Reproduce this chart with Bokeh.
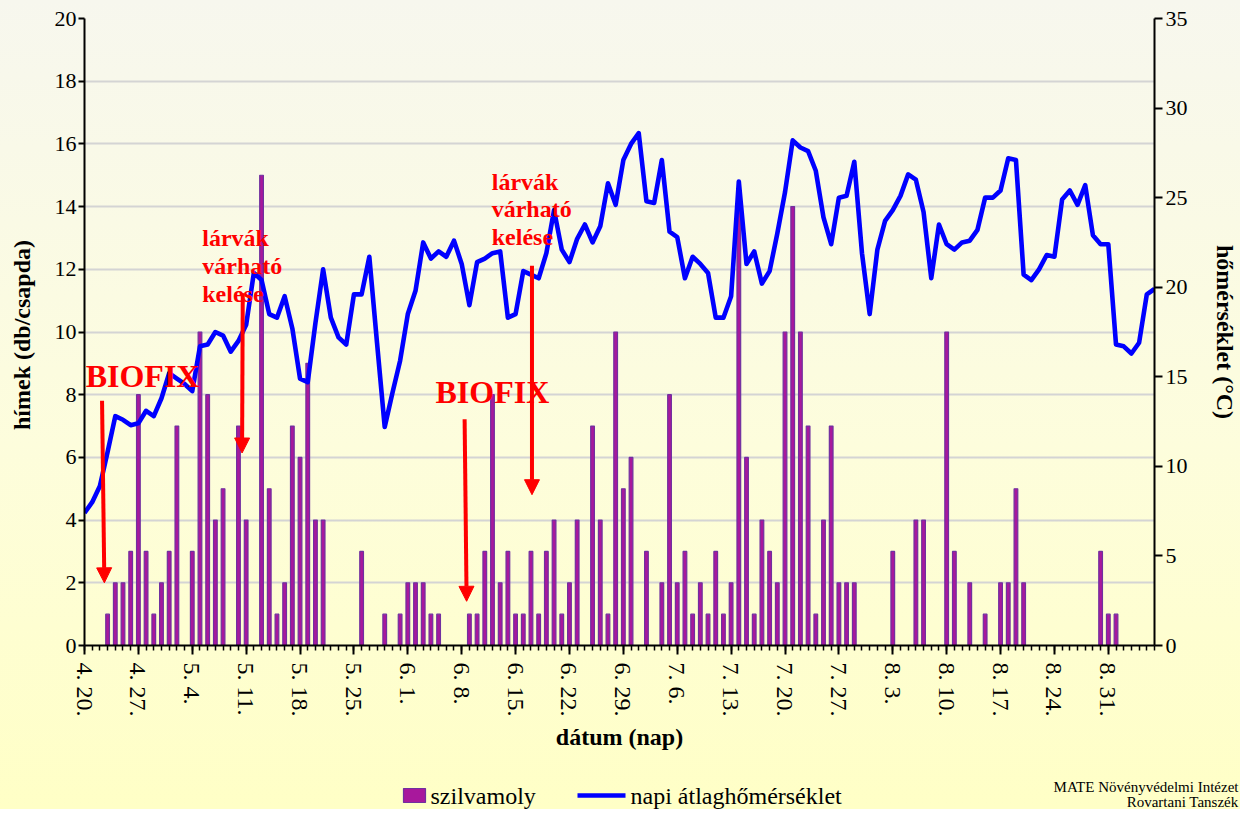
from bokeh.plotting import figure
from bokeh.layouts import column
from bokeh.models import (Range1d, LinearAxis, FixedTicker, Label, Arrow, NormalHead)
from bokeh.core.properties import value
from bokeh.embed import file_html
from bokeh.resources import INLINE

# ---------------- data ----------------
# x tick labels (one every 7 days, starting 4.20.)
tick_labels = ["4. 20.", "4. 27.", "5. 4.", "5. 11.", "5. 18.", "5. 25.", "6. 1.",
               "6. 8.", "6. 15.", "6. 22.", "6. 29.", "7. 6.", "7. 13.", "7. 20.",
               "7. 27.", "8. 3.", "8. 10.", "8. 17.", "8. 24.", "8. 31."]

# day index (0 = 4.20.) of each trap check with catch, and caught males
moth_days = [3, 4, 5, 6, 7, 8, 9, 10, 11, 12, 14, 15, 16, 17, 18, 20, 21, 23, 24, 25,
             26, 27, 28, 29, 30, 31, 36, 39, 41, 42, 43, 44, 45, 46, 50, 51, 52, 53,
             54, 55, 56, 57, 58, 59, 60, 61, 62, 63, 64, 66, 67, 68, 69, 70, 71, 73,
             75, 76, 77, 78, 79, 80, 81, 82, 83, 84, 85, 86, 87, 88, 89, 90, 91, 92,
             93, 94, 95, 96, 97, 98, 99, 100, 105, 108, 109, 112, 113, 115, 117, 119,
             120, 121, 122, 132, 133, 134]
moth_counts = [1, 2, 2, 3, 8, 3, 1, 2, 3, 7, 3, 10, 8, 4, 5, 7, 4, 15, 5, 1,
               2, 7, 6, 9, 4, 4, 3, 1, 1, 2, 2, 2, 1, 1, 1, 1, 3, 8,
               2, 3, 1, 1, 3, 1, 3, 4, 1, 2, 4, 7, 4, 1, 10, 5, 6, 3,
               2, 8, 2, 3, 1, 2, 1, 3, 1, 2, 14, 6, 1, 4, 3, 2, 10, 14,
               10, 7, 1, 4, 7, 2, 2, 2, 3, 4, 4, 10, 3, 2, 1, 2,
               2, 5, 2, 3, 1, 1]

# daily mean temperature (°C), 4.20. ... 9.6.
temperature = [7.4, 8.0, 8.9, 10.8, 12.8, 12.6, 12.3, 12.4, 13.1, 12.8,
               13.8, 15.2, 14.9, 14.6, 14.2, 16.7, 16.8, 17.5, 17.3, 16.4,
               17.0, 17.9, 20.8, 20.4, 18.5, 18.3, 19.5, 17.7, 14.9, 14.7,
               18.0, 21.0, 18.3, 17.2, 16.8, 19.6, 19.6, 21.7, 16.9, 12.2,
               14.1, 15.9, 18.5, 19.8, 22.5, 21.6, 22.0, 21.7, 22.6, 21.3,
               19.0, 21.4, 21.6, 21.9, 22.0, 18.3, 18.5, 20.9, 20.7, 20.5,
               21.9, 24.3, 22.1, 21.4, 22.7, 23.5, 22.5, 23.4, 25.8, 24.6,
               27.1, 28.0, 28.6, 24.8, 24.7, 27.1, 23.1, 22.8, 20.5, 21.7,
               21.3, 20.8, 18.3, 18.3, 19.5, 25.9, 21.3, 22.0, 20.2, 20.9,
               23.0, 25.3, 28.2, 27.8, 27.6, 26.5, 23.9, 22.4, 25.0, 25.1,
               27.0, 21.9, 18.5, 22.1, 23.7, 24.3, 25.1, 26.3, 26.0, 24.2,
               20.5, 23.5, 22.4, 22.1, 22.5, 22.6, 23.2, 25.0, 25.0, 25.4,
               27.2, 27.1, 20.7, 20.4, 21.0, 21.8, 21.7, 24.9, 25.4, 24.6,
               25.7, 22.9, 22.4, 22.4, 16.8, 16.7, 16.3, 16.9, 19.6, 19.9]
days = list(range(len(temperature)))

series_names = ["szilvamoly", "napi átlaghőmérséklet"]
footer_lines = ["MATE Növényvédelmi Intézet", "Rovartani Tanszék"]

SERIF = "Liberation Serif"
BAR_FILL = "#A8189C"
BAR_LINE = "#7030A0"
LINE_COL = "#0000FF"

p = figure(width=1240, height=752, x_range=Range1d(0, len(temperature) - 1),
           y_range=Range1d(0, 20), output_backend="svg", toolbar_location=None,
           min_border_left=84, min_border_right=83, min_border_top=18,
           min_border_bottom=106)
p.frame_align = False
p.extra_y_ranges = {"temp": Range1d(0, 35)}

p.border_fill_color = None
p.background_fill_color = None
p.outline_line_color = None

# grid
p.xgrid.visible = False
p.ygrid.grid_line_color = "#D4D4D4"
p.ygrid.grid_line_width = 2

# x axis
xa = p.xaxis[0]
xa.ticker = FixedTicker(ticks=[7 * i for i in range(len(tick_labels))],
                        minor_ticks=days)
xa.major_label_overrides = {7 * i: t for i, t in enumerate(tick_labels)}
xa.major_label_orientation = "vertical"
xa.major_label_text_font = SERIF
xa.major_label_text_font_size = "24px"
xa.major_label_text_color = "black"
xa.major_label_standoff = 8
xa.major_tick_out = 9
xa.major_tick_in = 0
xa.minor_tick_out = 5
xa.minor_tick_in = 0
xa.major_tick_line_width = 2
xa.minor_tick_line_width = 1.5
xa.axis_line_width = 2
xa.axis_label = "dátum (nap)"
xa.axis_label_text_font = SERIF
xa.axis_label_text_font_style = "bold"
xa.axis_label_text_font_size = "24px"
xa.axis_label_text_color = "black"
xa.axis_label_standoff = 4

# left axis
ya = p.yaxis[0]
ya.ticker = FixedTicker(ticks=list(range(0, 21, 2)))
ya.major_label_text_font = SERIF
ya.major_label_text_font_size = "22px"
ya.major_label_text_color = "black"
ya.major_label_standoff = 2
ya.major_tick_out = 6
ya.major_tick_in = 0
ya.minor_tick_out = 0
ya.minor_tick_in = 0
ya.major_tick_line_width = 2
ya.axis_line_width = 2
ya.axis_label = "hímek  (db/csapda)"
ya.axis_label_text_font = SERIF
ya.axis_label_text_font_style = "bold"
ya.axis_label_text_font_size = "24px"
ya.axis_label_text_color = "black"
ya.axis_label_standoff = 17

# right axis
ra = LinearAxis(y_range_name="temp", ticker=FixedTicker(ticks=list(range(0, 36, 5))))
ra.major_label_text_font = SERIF
ra.major_label_text_font_size = "22px"
ra.major_label_text_color = "black"
ra.major_label_standoff = 3
ra.major_tick_out = 8
ra.major_tick_in = 0
ra.minor_tick_out = 0
ra.minor_tick_in = 0
ra.major_tick_line_width = 2
ra.axis_line_width = 2
ra.axis_label = "hőmérséklet (°C)"
ra.axis_label_text_font = SERIF
ra.axis_label_text_font_style = "bold"
ra.axis_label_text_font_size = "24px"
ra.axis_label_text_color = "black"
ra.axis_label_standoff = 21
p.add_layout(ra, "right")

# bars
p.vbar(x=moth_days, top=moth_counts, width=0.48,
       fill_color=BAR_FILL, line_color=BAR_LINE, line_width=1.2)

# temperature line
p.line(x=days, y=temperature, y_range_name="temp", line_color=LINE_COL,
       line_width=4.6, line_join="round")

# annotations: BIOFIX and larval emergence
for (x0, y0, txt) in [(0.15, 8.6, "BIOFIX"), (45.6, 8.1, "BIOFIX")]:
    p.add_layout(Label(x=x0, y=y0, text=txt, text_font=SERIF, text_font_style="bold",
                       text_font_size="32px", text_color="#FF0000",
                       text_baseline="alphabetic"))

for (x0, ys) in [(15.3, [13.0, 12.1, 11.2]), (52.9, [14.8, 13.92, 13.04])]:
    for yy, txt in zip(ys, ["lárvák", "várható", "kelése"]):
        p.add_layout(Label(x=x0, y=yy, text=txt, text_font=SERIF, text_font_style="bold",
                           text_font_size="24px", text_color="#FF0000",
                           text_baseline="alphabetic"))

for (xs, ys, xe, ye) in [(2.28, 7.81, 2.58, 2.0), (20.56, 11.24, 20.47, 6.14),
                         (49.38, 7.22, 49.64, 1.41), (58.13, 12.11, 58.13, 4.81)]:
    p.add_layout(Arrow(end=NormalHead(size=15, fill_color="#FF0000", line_color="#FF0000",
                                      line_width=1),
                       x_start=xs, y_start=ys, x_end=xe, y_end=ye,
                       line_color="#FF0000", line_width=4))

# ---------------- legend + footer strip (pixel coordinates) ----------------
W2, H2 = 1240, 57
p2 = figure(width=W2, height=H2, x_range=Range1d(0, W2), y_range=Range1d(H2, 0),
            output_backend="svg", toolbar_location=None, x_axis_type=None,
            y_axis_type=None, min_border=0, min_border_left=0, min_border_right=0,
            min_border_top=0, min_border_bottom=0)
p2.frame_align = False
p2.grid.visible = False
p2.outline_line_color = None
p2.border_fill_color = None
p2.background_fill_color = None

p2.quad(left=[403], right=[425], top=[36], bottom=[50],
        fill_color=BAR_FILL, line_color=BAR_LINE, line_width=1.2)
p2.line(x=[577, 625], y=[43, 43], line_color=LINE_COL, line_width=4.6)
p2.text(x=[430, 630], y=[43, 43], text=series_names, text_font=value(SERIF),
        text_font_size="24px", text_baseline="middle", text_color="black")
p2.text(x=[1238, 1238], y=[34, 49], text=footer_lines, text_font=value(SERIF),
        text_font_size="15px", text_baseline="middle", text_align="right",
        text_color="black")

layout = column(p, p2, spacing=0)
layout.styles = {"background": "linear-gradient(to bottom, #F7F7EE 0%, #FDFDDC 55%, #FFFFC6 100%)"}

open("out.html", "w").write(file_html(layout, INLINE))
